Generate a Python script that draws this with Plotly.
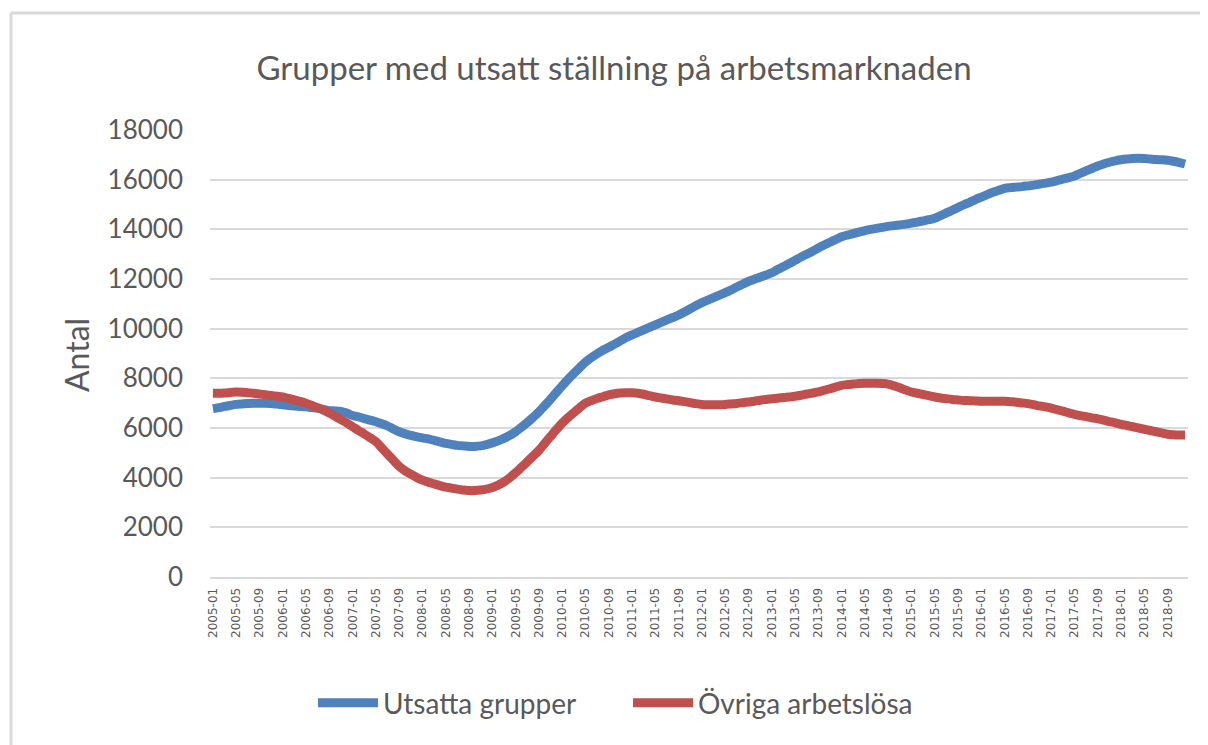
import plotly.graph_objects as go

months = [f"{y}-{m:02d}" for y in range(2005, 2019) for m in range(1, 13)]

utsatta = [
    6780, 6820, 6870, 6910, 6950, 6970, 6990, 7000, 7000, 7000, 6990, 6960,
    6930, 6910, 6890, 6870, 6850, 6820, 6790, 6750, 6700, 6690, 6670, 6600,
    6500, 6450, 6380, 6320, 6250, 6170, 6080, 5960, 5850, 5770, 5700, 5650,
    5600, 5560, 5500, 5440, 5380, 5340, 5300, 5280, 5260, 5260, 5280, 5330,
    5400, 5480, 5580, 5700, 5850, 6030, 6220, 6430, 6650, 6900, 7160, 7430,
    7700, 7960, 8200, 8430, 8650, 8830, 8990, 9130, 9250, 9380, 9510, 9640,
    9750, 9850, 9950, 10050, 10150, 10250, 10350, 10450, 10550, 10670, 10800, 10930,
    11050, 11150, 11250, 11350, 11450, 11560, 11680, 11790, 11900, 11990, 12070, 12160,
    12250, 12380, 12500, 12620, 12750, 12880, 13000, 13120, 13250, 13370, 13480, 13590,
    13700, 13770, 13830, 13890, 13950, 14000, 14040, 14080, 14120, 14150, 14180, 14210,
    14250, 14290, 14340, 14390, 14450, 14550, 14660, 14770, 14880, 14990, 15090, 15200,
    15300, 15400, 15490, 15570, 15650, 15680, 15700, 15720, 15750, 15780, 15820, 15860,
    15900, 15960, 16020, 16080, 16150, 16250, 16350, 16450, 16550, 16630, 16700, 16760,
    16800, 16830, 16850, 16860, 16850, 16830, 16810, 16800, 16780, 16740, 16690, 16630,
]

ovriga = [
    7400, 7400, 7410, 7430, 7450, 7440, 7420, 7400, 7370, 7340, 7310, 7280,
    7250, 7190, 7130, 7070, 7000, 6910, 6820, 6720, 6600, 6470, 6340, 6200,
    6050, 5900, 5760, 5610, 5450, 5200, 4950, 4700, 4450, 4280, 4140, 4010,
    3900, 3820, 3750, 3680, 3620, 3580, 3540, 3500, 3480, 3480, 3500, 3540,
    3600, 3700, 3830, 4000, 4200, 4420, 4640, 4870, 5100, 5380, 5660, 5940,
    6200, 6420, 6620, 6820, 7000, 7100, 7190, 7260, 7330, 7380, 7410, 7420,
    7420, 7400, 7360, 7300, 7250, 7210, 7170, 7130, 7100, 7060, 7020, 6980,
    6950, 6940, 6940, 6940, 6950, 6970, 6990, 7020, 7050, 7080, 7120, 7150,
    7180, 7200, 7230, 7250, 7280, 7320, 7370, 7410, 7450, 7520, 7580, 7650,
    7720, 7750, 7770, 7790, 7800, 7800, 7800, 7790, 7770, 7700, 7620, 7530,
    7450, 7400, 7350, 7300, 7250, 7210, 7180, 7150, 7130, 7110, 7100, 7090,
    7080, 7080, 7080, 7080, 7080, 7060, 7040, 7010, 6980, 6940, 6890, 6850,
    6800, 6740, 6680, 6610, 6550, 6500, 6460, 6410, 6370, 6320, 6260, 6210,
    6150, 6100, 6050, 6000, 5950, 5900, 5850, 5800, 5750, 5730, 5720, 5720,
]

tick_labels = months[::4]

TXT = "#595959"
GRID = "#d9d9d9"

# page has an 8px body margin; figure coordinates are offset accordingly
W, H = 1200, 737
L, T, R, B = 202, 122, 20, 168
PW = W - L - R
PH = H - T - B


def px(xp):
    return (xp - 8 - L) / PW


def py(yp):
    return (H - B - (yp - 8)) / PH


fig = go.Figure()
fig.add_trace(go.Scatter(x=months, y=utsatta, mode="lines", name="Utsatta grupper",
                         line=dict(color="#4f81bd", width=9, shape="spline", smoothing=0.8)))
fig.add_trace(go.Scatter(x=months, y=ovriga, mode="lines", name="Övriga arbetslösa",
                         line=dict(color="#c0504d", width=9, shape="spline", smoothing=0.8)))

fig.update_layout(
    width=W, height=H,
    margin=dict(l=L, r=R, t=T, b=B),
    paper_bgcolor="white", plot_bgcolor="white",
    font=dict(family="Lato, sans-serif", color=TXT),
    title=dict(text="Grupper med utsatt ställning på arbetsmarknaden",
               x=(614 - 8) / W, xanchor="center", y=1 - (68 - 8) / H, yanchor="middle",
               font=dict(family="Lato, sans-serif", size=33, color=TXT, weight=400)),
    showlegend=True,
    legend=dict(orientation="h", x=px(313), xanchor="left", y=py(703), yanchor="middle",
                font=dict(family="Lato, sans-serif", size=28, color=TXT),
                entrywidth=240, itemwidth=60, bgcolor="rgba(0,0,0,0)"),
    xaxis=dict(type="category", tickmode="array", tickvals=tick_labels, ticktext=tick_labels,
               tickangle=-90, tickfont=dict(family="DejaVu Sans", size=12, color=TXT),
               showgrid=False, showline=True, linecolor=GRID, linewidth=2, ticks="",
               ticklabelstandoff=4,
               range=[-0.5, len(months) - 0.5]),
    yaxis=dict(range=[0, 18000], dtick=2000, tickformat="d", showgrid=True, gridcolor=GRID,
               gridwidth=2, zeroline=False, showline=False, ticks="",
               tickfont=dict(family="Lato, sans-serif", size=26, color=TXT),
               ticklabelstandoff=26),
    annotations=[dict(text="Antal", x=px(76), y=py(355), xref="paper", yref="paper",
                      textangle=-90, showarrow=False, xanchor="center", yanchor="middle",
                      font=dict(family="Lato, sans-serif", size=32, color=TXT))],
    shapes=[
        dict(type="line", xref="paper", yref="paper",
             x0=px(11), x1=px(1300), y0=py(13), y1=py(13),
             line=dict(color=GRID, width=3), layer="below"),
        dict(type="line", xref="paper", yref="paper",
             x0=px(11), x1=px(11), y0=py(13), y1=py(900),
             line=dict(color=GRID, width=3), layer="below"),
    ],
)

fig.write_html("out.html")
